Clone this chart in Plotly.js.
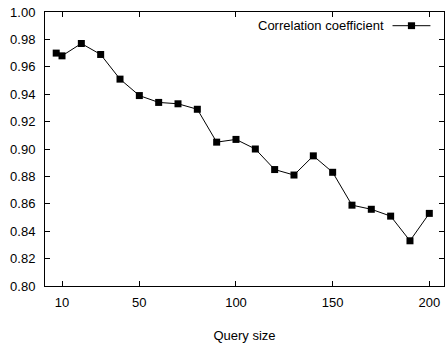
<!DOCTYPE html>
<html>
<head>
<meta charset="utf-8">
<script src="https://cdn.plot.ly/plotly-3.0.1.min.js"></script>
<style>html,body{margin:0;padding:0;background:#fff;}#chart{width:445px;height:345px;}</style>
</head>
<body>
<div id="chart"></div>
<script>
const querySize = [7, 10, 20, 30, 40, 50, 60, 70, 80, 90, 100, 110, 120, 130, 140, 150, 160, 170, 180, 190, 200];
const correlation = [0.970, 0.968, 0.977, 0.969, 0.951, 0.939, 0.934, 0.933, 0.929, 0.905, 0.907, 0.900, 0.885, 0.881, 0.895, 0.883, 0.859, 0.856, 0.851, 0.833, 0.853];
const xTicks = [10, 50, 100, 150, 200];
const yTicks = [0.80, 0.82, 0.84, 0.86, 0.88, 0.90, 0.92, 0.94, 0.96, 0.98, 1.00];
const seriesName = "Correlation coefficient";

const font = {family: "Liberation Sans, Arial, sans-serif", size: 13, color: "#000"};

const trace = {
  x: querySize, y: correlation, type: "scatter", mode: "lines+markers",
  name: seriesName, showlegend: false,
  line: {color: "#000", width: 1},
  marker: {symbol: "square", size: 7, color: "#000"}
};

const layout = {
  width: 445, height: 345,
  margin: {l: 45, r: 1, t: 12, b: 59, pad: 0},
  paper_bgcolor: "#fff", plot_bgcolor: "#fff",
  font: font,
  showlegend: false,
  xaxis: {
    range: [1.2, 207.6], tickvals: xTicks, ticktext: xTicks.map(String),
    ticks: "inside", ticklen: 5, tickcolor: "#000", tickwidth: 1,
    showline: true, linecolor: "#000", linewidth: 1, mirror: "allticks",
    showgrid: false, zeroline: false, tickfont: font, ticklabelstandoff: 4,
    title: {text: "Query size", font: font, standoff: 22}
  },
  yaxis: {
    range: [0.80, 1.00], tickvals: yTicks, ticktext: yTicks.map(v => v.toFixed(2)),
    ticks: "inside", ticklen: 5, tickcolor: "#000", tickwidth: 1,
    showline: true, linecolor: "#000", linewidth: 1, mirror: "allticks",
    showgrid: false, zeroline: false, tickfont: font, ticklabelstandoff: 6
  },
  annotations: [{
    xref: "paper", yref: "paper", x: 0.855, y: 0.95, xanchor: "right", yanchor: "middle",
    text: seriesName, showarrow: false, font: font
  }],
  shapes: [
    {type: "line", xref: "paper", yref: "paper", x0: 0.871, x1: 0.966, y0: 0.95, y1: 0.95, line: {color: "#000", width: 1}},
    {type: "rect", xref: "paper", yref: "paper", x0: 0.9095, x1: 0.9275, y0: 0.9375, y1: 0.9625, fillcolor: "#000", line: {width: 0}}
  ]
};

Plotly.newPlot("chart", [trace], layout, {displayModeBar: false, staticPlot: true});
</script>
</body>
</html>
